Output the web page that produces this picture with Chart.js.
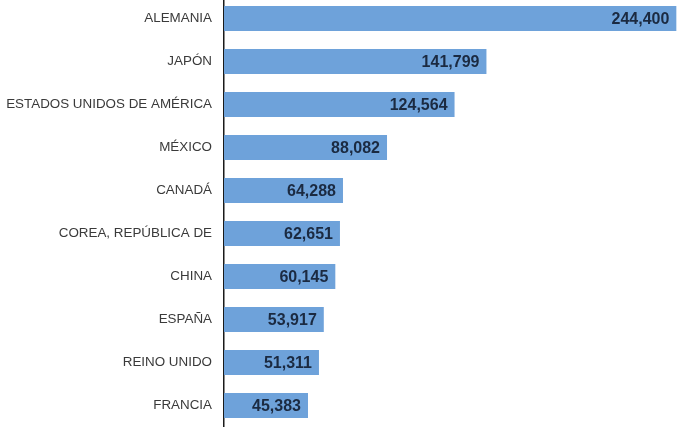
<!DOCTYPE html>
<html>
<head>
<meta charset="utf-8">
<script src="https://cdn.jsdelivr.net/npm/chart.js@4.4.1/dist/chart.umd.min.js"></script>
<style>
  html, body { margin: 0; padding: 0; background: #fff; }
  #wrap { position: relative; width: 683px; height: 430px; overflow: hidden; }
  #wrap canvas { position: absolute; left: 0; top: -3px; }
</style>
</head>
<body>
<div id="wrap"><canvas id="exportChart" width="683" height="430"></canvas></div>
<script>
const countries = ['ALEMANIA', 'JAPÓN', 'ESTADOS UNIDOS DE AMÉRICA', 'MÉXICO', 'CANADÁ',
  'COREA, REPÚBLICA DE', 'CHINA', 'ESPAÑA', 'REINO UNIDO', 'FRANCIA'];
const values = [244400, 141799, 124564, 88082, 64288, 62651, 60145, 53917, 51311, 45383];

const fmt = v => v.toLocaleString('en-US');

// value printed inside the end of each bar
const barValues = {
  id: 'barValues',
  afterDatasetsDraw(chart) {
    const ctx = chart.ctx;
    const meta = chart.getDatasetMeta(0);
    ctx.save();
    ctx.font = 'bold 16px "Liberation Sans", Arial, sans-serif';
    ctx.fillStyle = '#1b2a41';
    ctx.textAlign = 'right';
    ctx.textBaseline = 'middle';
    meta.data.forEach((bar, i) => {
      ctx.fillText(fmt(values[i]), bar.x - 7, bar.y + 1);
    });
    ctx.restore();
  }
};

new Chart(document.getElementById('exportChart').getContext('2d'), {
  type: 'bar',
  data: {
    labels: countries,
    datasets: [{
      data: values,
      backgroundColor: '#6ea2da',
      borderWidth: 0,
      barPercentage: 0.58,
      categoryPercentage: 1
    }]
  },
  options: {
    indexAxis: 'y',
    responsive: false,
    animation: false,
    layout: { padding: 0 },
    plugins: { legend: { display: false }, tooltip: { enabled: false } },
    scales: {
      x: { display: false, min: 0, max: 248000 },
      y: {
        afterFit(scale) {
          scale.width = 224;
          scale.paddingTop = 0;
          scale.paddingBottom = 0;
        },
        grid: { display: false, drawTicks: false },
        border: { display: true, color: '#1a1a1a', width: 1.5 },
        ticks: {
          padding: 12,
          color: '#3a3a3a',
          font: { family: '"Liberation Sans", Arial, sans-serif', size: 13.4 }
        }
      }
    }
  },
  plugins: [barValues]
});
</script>
</body>
</html>
